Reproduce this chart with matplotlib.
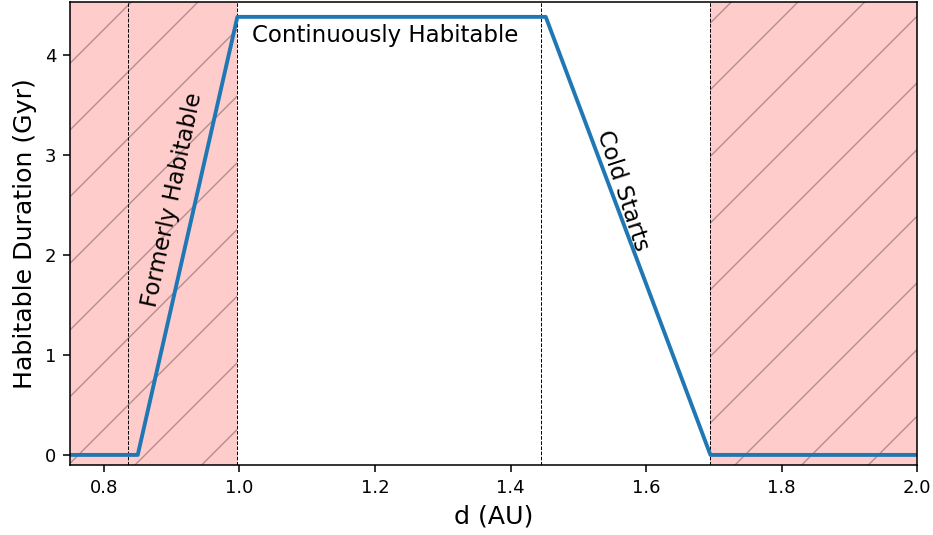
import matplotlib
matplotlib.use('Agg')
import matplotlib.pyplot as plt

# Habitable duration curve
d_au = [0.75, 0.850, 0.997, 1.452, 1.695, 2.0]
duration_gyr = [0.0, 0.0, 4.38, 4.38, 0.0, 0.0]

# Zone boundaries (AU)
inner_edge = 0.836
former_edge = 0.997
cold_edge = 1.4457
outer_edge = 1.695
x_range = [0.75, 2.0]

zone_labels = ['Continuously Habitable', 'Formerly Habitable', 'Cold Starts']

# render at a high dpi so the hatch spacing comes out wide; S keeps
# every other size as it would be at 140 dpi
DPI = 200
S = 140 / DPI

plt.rcParams.update({
    'axes.linewidth': 0.8 * S,
    'xtick.major.size': 3.5 * S,
    'ytick.major.size': 3.5 * S,
    'xtick.major.width': 0.8 * S,
    'ytick.major.width': 0.8 * S,
    'xtick.major.pad': 3.5 * S,
    'ytick.major.pad': 3.5 * S,
    'axes.labelpad': 4.0 * S,
    'hatch.linewidth': 0.5,
})

fig = plt.figure(figsize=(933 / DPI, 535 / DPI), dpi=DPI)
ax = fig.add_axes([0.075, 0.131, 0.908, 0.8655])

# Uninhabitable zones
for x0, x1 in [(x_range[0], former_edge), (outer_edge, x_range[1])]:
    ax.axvspan(x0, x1, facecolor=(1, 0, 0, 0.2), edgecolor=(0, 0, 0, 0.3),
               linewidth=0, hatch='/')

for xv in [inner_edge, former_edge, cold_edge, outer_edge]:
    ax.axvline(xv, color='k', ls='--', lw=0.5 * S)

ax.plot(d_au, duration_gyr, color='#1f77b4', lw=2.0 * S)

fs_text = 11.8 * S
ax.text(1.019, 4.19, zone_labels[0], fontsize=fs_text, ha='left', va='center')
ax.text(0.901, 2.556, zone_labels[1], fontsize=fs_text, rotation=78,
        ha='center', va='center')
ax.text(1.565, 2.64, zone_labels[2], fontsize=fs_text, rotation=-72,
        ha='center', va='center')

ax.set_xlim(*x_range)
ax.set_ylim(-0.1, 4.53)
ax.set_xticks([0.8, 1.0, 1.2, 1.4, 1.6, 1.8, 2.0])
ax.set_yticks([0, 1, 2, 3, 4])
ax.tick_params(labelsize=9.3 * S)
ax.set_xlabel('d (AU)', fontsize=13 * S)
ax.set_ylabel('Habitable Duration (Gyr)', fontsize=13 * S)

fig.savefig('out.png', dpi=DPI)
